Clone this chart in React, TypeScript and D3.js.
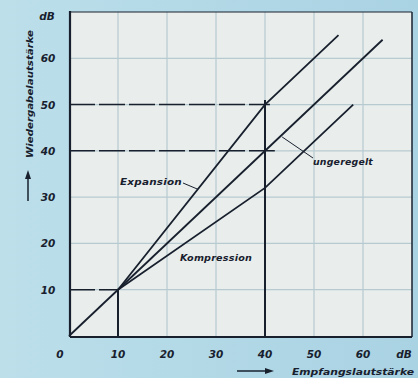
import React from "react";
import * as d3 from "d3";

// values (dB)
const xTicks = [0, 10, 20, 30, 40, 50, 60];
const yTicks = [10, 20, 30, 40, 50, 60];
const gridValues = [10, 20, 30, 40, 50, 60];

const ungeregelt: [number, number][] = [[0, 0], [64, 64]];
const expansion: [number, number][] = [[10, 10], [40, 50], [55, 65]];
const kompression: [number, number][] = [[10, 10], [40, 32], [58, 50]];

// helper lines: [x1, y1, x2, y2, dashed]
const guides: [number, number, number, number, boolean][] = [
  [0, 10, 10, 10, true],
  [10, 0, 10, 10, false],
  [0, 40, 42, 40, true],
  [0, 50, 41, 50, true],
  [40, 0, 40, 51, false],
];

const W = 418;
const H = 378;
const ink = "#18202e";
const font = "'DejaVu Sans', sans-serif";

export default function App() {
  const x = d3.scaleLinear().domain([0, 70]).range([69, 412]);
  const y = d3.scaleLinear().domain([0, 70]).range([336, 12]);
  const line = d3
    .line<[number, number]>()
    .x((d) => x(d[0]))
    .y((d) => y(d[1]));

  return (
    <svg
      width={W}
      height={H}
      style={{ position: "absolute", left: 0, top: 0, display: "block" }}
      fontFamily={font}
      fontStyle="italic"
      fontWeight="bold"
    >
      <defs>
        <linearGradient id="bg" x1="0" x2="1" y1="0" y2="0">
          <stop offset="0" stopColor="#bcdfea" />
          <stop offset="1" stopColor="#a9d2e3" />
        </linearGradient>
      </defs>
      <rect width={W} height={H} fill="url(#bg)" />
      <rect x={70} y={12} width={342} height={325} fill="#e9eeec" />

      {/* grid */}
      {gridValues.map((v) => (
        <g key={"g" + v}>
          <line x1={x(v)} x2={x(v)} y1={12} y2={337} stroke="#b7cad0" strokeWidth={1.2} />
          <line x1={70} x2={412} y1={y(v)} y2={y(v)} stroke="#b7cad0" strokeWidth={1.2} />
        </g>
      ))}

      {/* frame */}
      <line x1={70} x2={412} y1={12} y2={12} stroke={ink} strokeWidth={1.2} />
      <line x1={412} x2={412} y1={12} y2={337} stroke={ink} strokeWidth={1.5} />
      <line x1={70} x2={70} y1={11} y2={337} stroke={ink} strokeWidth={2.2} />
      <line x1={70} x2={412} y1={337} y2={337} stroke={ink} strokeWidth={2} />

      {/* helper lines */}
      {guides.map((g, i) => (
        <line
          key={"h" + i}
          x1={x(g[0])}
          y1={y(g[1])}
          x2={x(g[2])}
          y2={y(g[3])}
          stroke={ink}
          strokeWidth={g[4] ? 1.5 : 2}
          strokeDasharray={g[4] ? "26,4" : undefined}
        />
      ))}

      {/* curves */}
      {[ungeregelt, expansion, kompression].map((s, i) => (
        <path key={"c" + i} d={line(s) || ""} fill="none" stroke={ink} strokeWidth={1.8} />
      ))}

      {/* leaders */}
      <line x1={183} y1={183} x2={x(26.3)} y2={y(31.7)} stroke={ink} strokeWidth={1} />
      <line x1={x(43.5)} y1={y(43)} x2={313} y2={158} stroke={ink} strokeWidth={1} />

      {/* labels in plot */}
      <g fill={ink} fontSize={9.5} letterSpacing={0.2}>
        <text x={120} y={185} textLength={62} lengthAdjust="spacingAndGlyphs">Expansion</text>
        <text x={180} y={261} textLength={72} lengthAdjust="spacingAndGlyphs">Kompression</text>
        <text x={313} y={165} textLength={60} lengthAdjust="spacingAndGlyphs">ungeregelt</text>
      </g>

      {/* y tick labels */}
      <g fill={ink} fontSize={10.5} textAnchor="middle">
        {yTicks.map((t) => (
          <text key={"y" + t} x={48} y={y(t) + 4}>
            {t}
          </text>
        ))}
        <text x={47} y={20}>dB</text>
      </g>

      {/* x tick labels */}
      <g fill={ink} fontSize={10.5} textAnchor="middle">
        {xTicks.map((t) => (
          <text key={"x" + t} x={t === 0 ? 60 : x(t)} y={358}>
            {t}
          </text>
        ))}
        <text x={404} y={358}>dB</text>
      </g>

      {/* axis titles */}
      <text
        transform="translate(33,94) rotate(-90)"
        textAnchor="middle"
        fill={ink}
        fontSize={9.5}
        textLength={128}
        lengthAdjust="spacingAndGlyphs"
      >
        Wiedergabelautstärke
      </text>
      <line x1={28} x2={28} y1={201} y2={176} stroke={ink} strokeWidth={1.5} />
      <path d="M28,170 L25,179 L31,179 Z" fill={ink} />

      <text
        x={292}
        y={375}
        fill={ink}
        fontSize={9.5}
        textLength={122}
        lengthAdjust="spacingAndGlyphs"
      >
        Empfangslautstärke
      </text>
      <line x1={237} x2={266} y1={371} y2={371} stroke={ink} strokeWidth={1.5} />
      <path d="M274,371 L265,368 L265,374 Z" fill={ink} />
    </svg>
  );
}
